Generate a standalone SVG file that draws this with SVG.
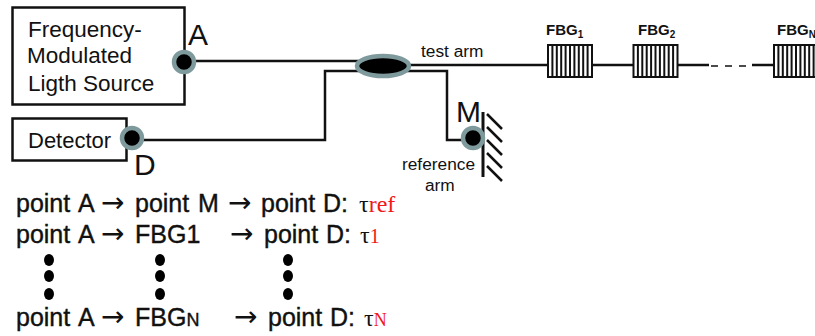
<svg xmlns="http://www.w3.org/2000/svg" width="815" height="336" viewBox="0 0 815 336">
<style>
text{font-family:"Liberation Sans",Arial,sans-serif;fill:#111}
.box{fill:#fff;stroke:#111;stroke-width:2.5}
.w{fill:none;stroke:#111;stroke-width:2.5}
.ring{fill:#000;stroke:#7f9a9c;stroke-width:4.5}
.t20{font-size:22.5px}
.t{font-size:25px;stroke:#111;stroke-width:.4px}
.ar{font-family:"DejaVu Sans",sans-serif;font-size:28px}
.s{font-size:17.3px}
.f{font-size:15px;font-weight:bold}
.L{font-size:30px}
.tau{font-family:"Liberation Serif",serif;font-size:24px}
.r{fill:#f01818}
.b{fill:#fff;stroke:#111;stroke-width:2}
.h{stroke:#111;stroke-width:2}
</style>
<defs>
<g id="grating"><rect class="b" x="0" y="0" width="44" height="32"/><path class="h" d="M4.400 0V32M8.800 0V32M13.200 0V32M17.600 0V32M22 0V32M26.400 0V32M30.800 0V32M35.200 0V32M39.600 0V32"/></g>
</defs>
<g id="connectors">
<path class="w" d="M190 61H362"/>
<path class="w" d="M140 140H325V71H362"/>
<path class="w" d="M404 65H548M592 65H633M678 65H709M752 65H774"/>
<path class="w" stroke-dasharray="7 7" style="stroke-width:1.500" d="M711 66H752"/>
<path class="w" d="M404 71H447V140H462"/>
</g>
<g id="source"><rect class="box" x="12.500" y="7.500" width="172" height="97"/>
<text class="t20" x="28" y="37">Frequency-</text><text class="t20" x="27" y="63">Modulated</text><text class="t20" x="28" y="91">Ligth Source</text></g>
<g id="detector"><rect class="box" x="12.500" y="118.500" width="114" height="42"/><text class="t20" style="font-size:22px" x="28" y="148">Detector</text></g>
<g id="pointA"><circle class="ring" cx="184" cy="62" r="10"/><text class="L" x="188" y="45">A</text></g>
<g id="pointD"><circle class="ring" cx="132" cy="138" r="10"/><text class="L" x="134" y="175">D</text></g>
<g id="coupler"><ellipse class="ring" cx="383" cy="66" rx="26" ry="10"/></g>
<g id="testarm"><text class="s" x="421" y="57">test arm</text></g>
<g id="mirror">
<path class="w" d="M483 112V177" style="stroke-width:3"/>
<path class="h" d="M487 114L502 129M487 127L502 142M487 140L502 155M487 153L502 168M487 166L502 181" style="stroke-width:2.500"/>
<circle class="ring" cx="473" cy="138" r="10"/>
<text class="L" x="456" y="122">M</text>
<text class="s" x="402" y="170">reference</text><text class="s" x="425" y="191">arm</text></g>
<g id="fbg1"><use href="#grating" x="548" y="45"/><text class="f" x="546" y="35">FBG<tspan font-size="10" dy="3">1</tspan></text></g>
<g id="fbg2"><use href="#grating" x="633.500" y="45"/><text class="f" x="638" y="35">FBG<tspan font-size="10" dy="3">2</tspan></text></g>
<g id="fbgN"><use href="#grating" x="774" y="45"/><text class="f" x="777" y="35">FBG<tspan font-size="10" dy="3">N</tspan></text></g>
<g id="equations">
<text class="t" x="16" y="212">point</text><text class="t" x="78" y="212">A</text><text class="ar" x="101" y="212">→</text><text class="t" x="135" y="212">point</text><text class="t" x="198" y="212">M</text><text class="ar" x="228" y="212">→</text><text class="t" x="261" y="212">point</text><text class="t" x="323" y="212">D:</text><text class="tau" x="359" y="212">τ<tspan class="r" font-size="24">ref</tspan></text>
<text class="t" x="16" y="243">point</text><text class="t" x="78" y="243">A</text><text class="ar" x="101" y="243">→</text><text class="t" x="135" y="243">FBG1</text><text class="ar" x="230" y="243">→</text><text class="t" x="264" y="243">point</text><text class="t" x="326" y="243">D:</text><text class="tau" x="360" y="243">τ<tspan class="r" font-size="20">1</tspan></text>
<text class="t" x="16" y="326">point</text><text class="t" x="78" y="326">A</text><text class="ar" x="101" y="326">→</text><text class="t" x="135" y="326">FBG<tspan font-size="18">N</tspan></text><text class="ar" x="234" y="326">→</text><text class="t" x="268" y="326">point</text><text class="t" x="330" y="326">D:</text><text class="tau" x="364" y="326">τ<tspan class="r" font-size="18">N</tspan></text>
<g fill="#000"><ellipse cx="49" cy="260" rx="5" ry="6"/><ellipse cx="49" cy="276" rx="5" ry="6"/><ellipse cx="49" cy="294" rx="5" ry="6"/><ellipse cx="160" cy="260" rx="5" ry="6"/><ellipse cx="160" cy="276" rx="5" ry="6"/><ellipse cx="160" cy="294" rx="5" ry="6"/><ellipse cx="288" cy="260" rx="5" ry="6"/><ellipse cx="288" cy="276" rx="5" ry="6"/><ellipse cx="288" cy="294" rx="5" ry="6"/></g>
</g>
</svg>
